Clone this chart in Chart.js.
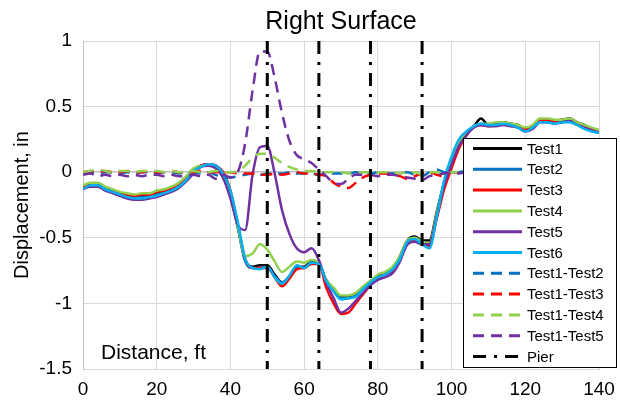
<!DOCTYPE html>
<html>
<head>
<meta charset="utf-8">
<script src="https://cdn.jsdelivr.net/npm/chart.js@4"></script>
<style>
  html, body { margin: 0; padding: 0; background: #fff; }
</style>
</head>
<body>
<canvas id="chart" width="620" height="400"></canvas>
<script>
// Right surface displacement profiles, 6 tests + differences, pier lines
const distance = [0, 2, 4, 6, 8, 10, 12, 14, 16, 18, 20, 22, 24, 26, 28, 30, 32, 34, 36, 38,
  40, 42, 44, 46, 48, 50, 52, 54, 56, 58, 60, 62, 64, 66, 68, 70, 72, 74, 76, 78,
  80, 82, 84, 86, 88, 90, 92, 94, 96, 98, 100, 102, 104, 106, 108, 110, 112, 114, 116, 118,
  120, 122, 124, 126, 128, 130, 132, 134, 136, 138, 140];

const test1 = [-0.11, -0.09, -0.09, -0.12, -0.14, -0.16, -0.17, -0.18, -0.18, -0.17,
  -0.16, -0.14, -0.12, -0.09, -0.04, 0.02, 0.05, 0.06, 0.04, -0.04,
  -0.18, -0.42, -0.67, -0.72, -0.71, -0.71, -0.78, -0.84, -0.80, -0.72,
  -0.72, -0.68, -0.70, -0.82, -0.89, -0.95, -0.95, -0.93, -0.88, -0.83,
  -0.79, -0.77, -0.73, -0.64, -0.52, -0.49, -0.52, -0.52, -0.30, -0.08,
  0.08, 0.22, 0.30, 0.35, 0.41, 0.36, 0.37, 0.38, 0.37, 0.36,
  0.33, 0.35, 0.40, 0.40, 0.39, 0.40, 0.41, 0.38, 0.36, 0.33, 0.32];
const test2 = [-0.12, -0.10, -0.10, -0.13, -0.15, -0.17, -0.18, -0.19, -0.19, -0.18,
  -0.17, -0.15, -0.13, -0.10, -0.05, 0.02, 0.05, 0.06, 0.05, -0.02,
  -0.16, -0.42, -0.68, -0.73, -0.73, -0.72, -0.79, -0.84, -0.79, -0.72,
  -0.73, -0.69, -0.70, -0.83, -0.90, -0.96, -0.96, -0.94, -0.89, -0.84,
  -0.80, -0.78, -0.74, -0.65, -0.53, -0.51, -0.53, -0.56, -0.32, -0.08,
  0.09, 0.23, 0.30, 0.35, 0.37, 0.36, 0.36, 0.37, 0.36, 0.35,
  0.32, 0.34, 0.39, 0.39, 0.38, 0.39, 0.40, 0.37, 0.34, 0.32, 0.31];
const test3 = [-0.11, -0.09, -0.09, -0.12, -0.14, -0.16, -0.17, -0.18, -0.17, -0.17,
  -0.15, -0.14, -0.12, -0.09, -0.04, 0.02, 0.05, 0.06, 0.05, 0.00,
  -0.14, -0.40, -0.66, -0.73, -0.73, -0.73, -0.80, -0.87, -0.81, -0.74,
  -0.73, -0.70, -0.70, -0.88, -1.00, -1.08, -1.07, -1.00, -0.93, -0.86,
  -0.80, -0.78, -0.75, -0.66, -0.55, -0.52, -0.54, -0.56, -0.35, -0.13,
  0.03, 0.18, 0.28, 0.34, 0.36, 0.35, 0.36, 0.37, 0.36, 0.35,
  0.33, 0.35, 0.40, 0.40, 0.39, 0.40, 0.40, 0.38, 0.35, 0.33, 0.32];
const test4 = [-0.10, -0.08, -0.08, -0.11, -0.13, -0.15, -0.16, -0.17, -0.16, -0.16,
  -0.14, -0.13, -0.11, -0.08, -0.03, 0.03, 0.05, 0.05, 0.03, -0.04,
  -0.17, -0.41, -0.64, -0.62, -0.55, -0.59, -0.68, -0.76, -0.72, -0.68,
  -0.69, -0.67, -0.69, -0.82, -0.88, -0.94, -0.94, -0.92, -0.87, -0.83,
  -0.78, -0.76, -0.72, -0.64, -0.52, -0.50, -0.53, -0.54, -0.31, -0.09,
  0.08, 0.22, 0.30, 0.35, 0.37, 0.37, 0.38, 0.38, 0.37, 0.36,
  0.34, 0.36, 0.41, 0.41, 0.40, 0.40, 0.41, 0.38, 0.36, 0.34, 0.32];
const test5 = [-0.13, -0.11, -0.11, -0.14, -0.16, -0.18, -0.20, -0.21, -0.21, -0.20,
  -0.19, -0.17, -0.15, -0.12, -0.07, -0.01, 0.04, 0.05, 0.03, -0.04,
  -0.20, -0.40, -0.44, -0.02, 0.19, 0.20, -0.01, -0.29, -0.47, -0.58,
  -0.61, -0.58, -0.67, -0.84, -0.96, -1.07, -1.04, -0.98, -0.92, -0.86,
  -0.82, -0.80, -0.77, -0.68, -0.55, -0.53, -0.55, -0.55, -0.33, -0.10,
  0.06, 0.20, 0.28, 0.34, 0.36, 0.35, 0.35, 0.36, 0.35, 0.34,
  0.31, 0.33, 0.38, 0.38, 0.37, 0.38, 0.39, 0.36, 0.34, 0.32, 0.30];
const test6 = [-0.13, -0.10, -0.10, -0.13, -0.15, -0.17, -0.19, -0.20, -0.20, -0.19,
  -0.18, -0.16, -0.14, -0.11, -0.06, 0.01, 0.04, 0.06, 0.05, -0.01,
  -0.14, -0.38, -0.66, -0.73, -0.74, -0.72, -0.80, -0.85, -0.79, -0.71,
  -0.73, -0.69, -0.70, -0.83, -0.91, -0.97, -0.96, -0.95, -0.89, -0.84,
  -0.80, -0.78, -0.74, -0.66, -0.53, -0.51, -0.55, -0.58, -0.34, -0.06,
  0.12, 0.25, 0.31, 0.35, 0.37, 0.36, 0.36, 0.37, 0.36, 0.34,
  0.31, 0.34, 0.38, 0.38, 0.37, 0.38, 0.38, 0.36, 0.33, 0.31, 0.30];

const diff12 = [0.00, 0.00, -0.01, 0.00, 0.00, -0.01, 0.00, -0.01, 0.00, 0.00,
  -0.01, 0.00, 0.00, -0.01, 0.00, 0.00, -0.01, 0.00, -0.02, -0.04,
  -0.04, -0.03, -0.02, -0.01, -0.02, -0.01, -0.01, -0.01, 0.00, -0.01,
  -0.01, -0.01, -0.02, -0.02, -0.01, -0.01, -0.01, 0.00, -0.01, -0.01,
  0.00, -0.01, -0.01, -0.01, 0.00, -0.02, -0.03, 0.00, 0.02, 0.00,
  0.00, 0.00, 0.01, 0.00, -0.01, 0.00, 0.00, 0.01, 0.00, 0.00,
  -0.01, 0.00, 0.00, 0.01, 0.00, 0.00, -0.01, 0.00, 0.00, 0.01, 0.00];
const diff13 = [0.00, 0.01, 0.00, 0.01, 0.00, 0.00, 0.01, 0.00, 0.00, 0.01,
  0.00, 0.00, 0.01, 0.00, 0.00, 0.00, 0.01, 0.00, 0.00, 0.00,
  0.00, -0.01, -0.01, -0.01, -0.02, -0.02, -0.01, -0.02, -0.01, 0.00,
  -0.01, -0.01, -0.02, -0.03, -0.08, -0.11, -0.12, -0.08, -0.04, -0.02,
  -0.01, -0.01, -0.02, -0.03, -0.05, -0.03, -0.01, 0.00, -0.02, -0.03,
  0.00, 0.00, 0.00, 0.00, 0.00, 0.00, 0.00, 0.00, 0.00, 0.00,
  0.00, 0.00, 0.00, 0.00, 0.00, 0.00, 0.00, 0.00, 0.00, 0.00, 0.00];
const diff14 = [0.00, 0.01, 0.02, 0.01, 0.00, 0.01, 0.01, 0.00, 0.01, 0.01,
  0.01, 0.00, 0.01, 0.00, 0.00, 0.01, 0.00, 0.00, 0.01, 0.00,
  0.00, 0.01, 0.05, 0.11, 0.14, 0.14, 0.11, 0.07, 0.04, 0.02,
  0.01, 0.01, 0.00, 0.00, 0.00, 0.00, -0.01, -0.01, 0.00, 0.00,
  0.00, 0.00, 0.00, -0.01, 0.00, 0.00, -0.02, 0.00, 0.00, 0.00,
  0.00, 0.00, 0.00, 0.00, 0.00, 0.00, 0.00, 0.00, 0.00, 0.00,
  0.00, 0.00, 0.00, 0.00, 0.00, 0.00, 0.00, 0.00, 0.00, 0.00, 0.00];
const diff15 = [-0.02, -0.01, -0.03, -0.02, -0.03, -0.02, -0.03, -0.02, -0.03, -0.02,
  -0.02, -0.03, -0.02, -0.03, -0.03, -0.02, -0.03, -0.02, -0.05, -0.02,
  -0.04, 0.00, 0.22, 0.62, 0.92, 0.92, 0.72, 0.45, 0.24, 0.13,
  0.10, 0.07, 0.02, -0.03, -0.08, -0.09, -0.05, -0.02, -0.02, -0.02,
  -0.03, -0.02, -0.02, -0.03, -0.04, -0.05, -0.06, -0.03, -0.02, -0.01,
  0.00, -0.01, 0.00, -0.01, 0.00, -0.01, 0.00, -0.01, 0.00, -0.01,
  0.00, -0.01, 0.00, -0.01, 0.00, -0.01, 0.00, -0.01, 0.00, -0.01, 0.00];

const piers = [50, 64, 78, 92];

const FONT = "'Liberation Sans', Arial, sans-serif";
Chart.defaults.font.family = FONT;
Chart.defaults.color = '#000';

const SOLID = [];
const DASH = [11, 7];
const DASH_DOT = [13, 8, 3, 8];

const series = [
  { label: 'Test1', data: test1, color: '#000000', dash: SOLID },
  { label: 'Test2', data: test2, color: '#0070C0', dash: SOLID },
  { label: 'Test3', data: test3, color: '#FF0000', dash: SOLID },
  { label: 'Test4', data: test4, color: '#92D050', dash: SOLID },
  { label: 'Test5', data: test5, color: '#7030A0', dash: SOLID },
  { label: 'Test6', data: test6, color: '#00B0F0', dash: SOLID },
  { label: 'Test1-Test2', data: diff12, color: '#0070C0', dash: DASH },
  { label: 'Test1-Test3', data: diff13, color: '#FF0000', dash: DASH },
  { label: 'Test1-Test4', data: diff14, color: '#92D050', dash: DASH },
  { label: 'Test1-Test5', data: diff15, color: '#7030A0', dash: DASH }
];

const yMin = -1.5, yMax = 1;

const datasets = series.map((s, i) => ({
  label: s.label,
  data: distance.map((x, k) => ({ x: x, y: s.data[k] })),
  borderColor: s.color,
  borderWidth: 2.5,
  borderDash: s.dash,
  pointRadius: 0,
  cubicInterpolationMode: 'monotone',
  fill: false,
  order: 100 - i
}));
piers.forEach(p => {
  datasets.push({
    label: 'Pier',
    data: [{ x: p, y: yMax }, { x: p, y: yMin }],
    borderColor: '#000000',
    borderWidth: 3,
    borderDash: DASH_DOT,
    pointRadius: 0,
    fill: false,
    order: 0
  });
});

// legend entries: the ten series plus one Pier entry
const legendItems = series.map(s => ({ label: s.label, color: s.color, dash: s.dash }))
  .concat([{ label: 'Pier', color: '#000000', dash: DASH_DOT }]);

const overlay = {
  id: 'overlay',
  afterDraw(chart) {
    const ctx = chart.ctx;
    ctx.save();
    // x axis title sits inside the plot
    ctx.fillStyle = '#000';
    ctx.font = '21px ' + FONT;
    ctx.textBaseline = 'alphabetic';
    ctx.textAlign = 'left';
    ctx.fillText('Distance, ft', 101, 359);

    // legend box
    const bx = 463.5, by = 138.5, bw = 153, bh = 229;
    ctx.fillStyle = '#fff';
    ctx.fillRect(bx, by, bw, bh);
    ctx.strokeStyle = '#000';
    ctx.lineWidth = 1;
    ctx.setLineDash([]);
    ctx.strokeRect(bx, by, bw, bh);
    ctx.font = '15px ' + FONT;
    ctx.textBaseline = 'middle';
    legendItems.forEach((it, i) => {
      const y = 148.5 + i * 20.8;
      ctx.beginPath();
      ctx.strokeStyle = it.color;
      ctx.lineWidth = 3;
      ctx.setLineDash(it.dash);
      ctx.moveTo(473, y);
      ctx.lineTo(522, y);
      ctx.stroke();
      ctx.setLineDash([]);
      ctx.fillStyle = '#000';
      ctx.fillText(it.label, 527, y + 1);
    });
    ctx.restore();
  }
};

new Chart(document.getElementById('chart'), {
  type: 'line',
  data: { datasets: datasets },
  plugins: [overlay],
  options: {
    responsive: false,
    animation: false,
    layout: { padding: { left: 0, right: 21, top: 0, bottom: 0 } },
    plugins: {
      legend: { display: false },
      tooltip: { enabled: false },
      title: {
        display: true,
        text: 'Right Surface',
        fullSize: false,
        color: '#000',
        font: { size: 25, weight: 'normal' },
        padding: { top: 7, bottom: 4 }
      }
    },
    scales: {
      x: {
        type: 'linear',
        min: 0,
        max: 140,
        ticks: { stepSize: 20, font: { size: 19 }, padding: 9, color: '#000' },
        grid: { color: '#D9D9D9', drawTicks: false },
        border: { color: '#D9D9D9' },
        afterFit(s) { s.height = 31; s.paddingLeft = 0; s.paddingRight = 0; }
      },
      y: {
        min: yMin,
        max: yMax,
        ticks: {
          stepSize: 0.5,
          font: { size: 19 },
          padding: 11,
          color: '#000',
          callback: v => String(v)
        },
        grid: {
          color: c => (c.tick && c.tick.value === 0) ? '#BFBFBF' : '#D9D9D9',
          lineWidth: c => (c.tick && c.tick.value === 0) ? 1.5 : 1,
          drawTicks: false
        },
        border: { color: '#BFBFBF' },
        title: {
          display: true,
          text: 'Displacement, in',
          color: '#000',
          font: { size: 20 },
          padding: { top: 10, bottom: 0 }
        },
        afterFit(s) { s.width = 83; s.paddingTop = 0; s.paddingBottom = 0; }
      }
    }
  }
});
</script>
</body>
</html>
